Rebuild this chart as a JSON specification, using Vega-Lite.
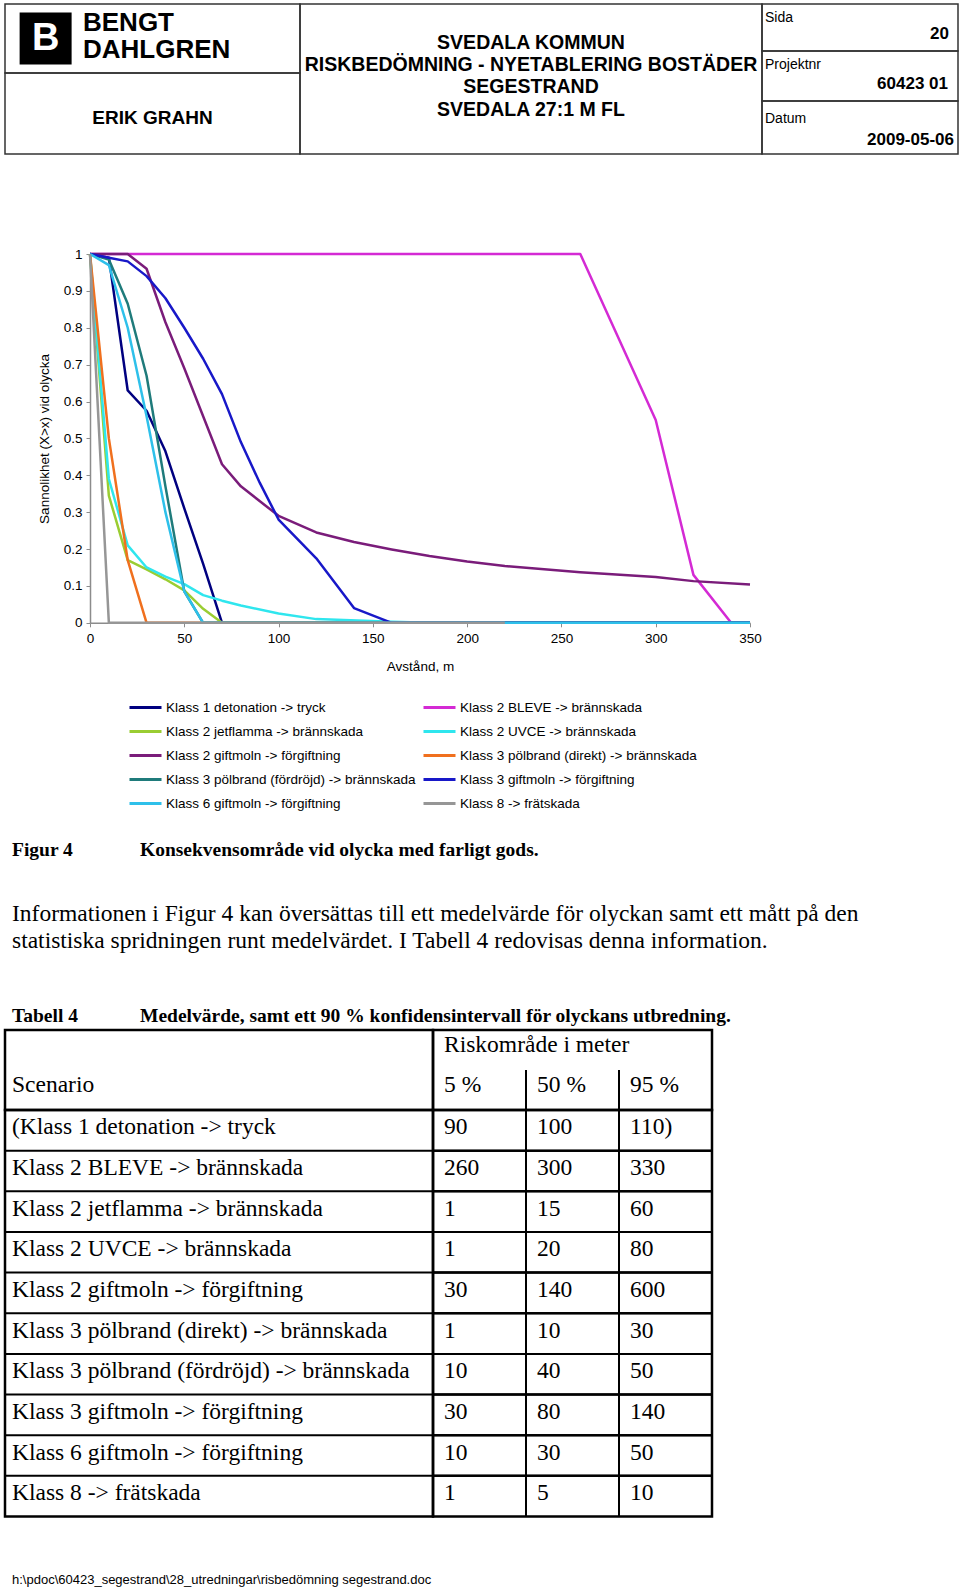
{
  "$schema": "https://vega.github.io/schema/vega-lite/v6.json",
  "padding": {"left": 2, "top": 3, "right": 0, "bottom": 0},
  "background": "white",
  "bounds": "flush",
  "spacing": 0,
  "config": {
    "view": {"stroke": null},
    "font": "Liberation Sans",
    "text": {"color": "black"}
  },
  "datasets": {
    "curves": [
      {"s": "Klass 1 detonation -> tryck", "x": 0, "p": 1},
      {"s": "Klass 1 detonation -> tryck", "x": 10, "p": 0.99},
      {"s": "Klass 1 detonation -> tryck", "x": 20, "p": 0.63},
      {"s": "Klass 1 detonation -> tryck", "x": 30, "p": 0.575},
      {"s": "Klass 1 detonation -> tryck", "x": 40, "p": 0.465},
      {"s": "Klass 1 detonation -> tryck", "x": 50, "p": 0.31},
      {"s": "Klass 1 detonation -> tryck", "x": 60, "p": 0.16},
      {"s": "Klass 1 detonation -> tryck", "x": 70, "p": 0},
      {"s": "Klass 1 detonation -> tryck", "x": 350, "p": 0},
      {"s": "Klass 2 BLEVE -> brännskada", "x": 0, "p": 1},
      {"s": "Klass 2 BLEVE -> brännskada", "x": 260, "p": 1},
      {"s": "Klass 2 BLEVE -> brännskada", "x": 300, "p": 0.55},
      {"s": "Klass 2 BLEVE -> brännskada", "x": 320, "p": 0.13},
      {"s": "Klass 2 BLEVE -> brännskada", "x": 340, "p": 0},
      {"s": "Klass 2 BLEVE -> brännskada", "x": 350, "p": 0},
      {"s": "Klass 2 jetflamma -> brännskada", "x": 0, "p": 1},
      {"s": "Klass 2 jetflamma -> brännskada", "x": 10, "p": 0.345},
      {"s": "Klass 2 jetflamma -> brännskada", "x": 20, "p": 0.17},
      {"s": "Klass 2 jetflamma -> brännskada", "x": 30, "p": 0.145},
      {"s": "Klass 2 jetflamma -> brännskada", "x": 40, "p": 0.118},
      {"s": "Klass 2 jetflamma -> brännskada", "x": 50, "p": 0.088},
      {"s": "Klass 2 jetflamma -> brännskada", "x": 60, "p": 0.038},
      {"s": "Klass 2 jetflamma -> brännskada", "x": 70, "p": 0},
      {"s": "Klass 2 jetflamma -> brännskada", "x": 350, "p": 0},
      {"s": "Klass 2 UVCE -> brännskada", "x": 0, "p": 1},
      {"s": "Klass 2 UVCE -> brännskada", "x": 10, "p": 0.39},
      {"s": "Klass 2 UVCE -> brännskada", "x": 20, "p": 0.21},
      {"s": "Klass 2 UVCE -> brännskada", "x": 30, "p": 0.15},
      {"s": "Klass 2 UVCE -> brännskada", "x": 40, "p": 0.125},
      {"s": "Klass 2 UVCE -> brännskada", "x": 50, "p": 0.105},
      {"s": "Klass 2 UVCE -> brännskada", "x": 60, "p": 0.075},
      {"s": "Klass 2 UVCE -> brännskada", "x": 70, "p": 0.06},
      {"s": "Klass 2 UVCE -> brännskada", "x": 80, "p": 0.047},
      {"s": "Klass 2 UVCE -> brännskada", "x": 100, "p": 0.025},
      {"s": "Klass 2 UVCE -> brännskada", "x": 120, "p": 0.01},
      {"s": "Klass 2 UVCE -> brännskada", "x": 160, "p": 0.003},
      {"s": "Klass 2 UVCE -> brännskada", "x": 180, "p": 0},
      {"s": "Klass 2 UVCE -> brännskada", "x": 350, "p": 0},
      {"s": "Klass 2 giftmoln -> förgiftning", "x": 0, "p": 1},
      {"s": "Klass 2 giftmoln -> förgiftning", "x": 20, "p": 1},
      {"s": "Klass 2 giftmoln -> förgiftning", "x": 30, "p": 0.96},
      {"s": "Klass 2 giftmoln -> förgiftning", "x": 40, "p": 0.815},
      {"s": "Klass 2 giftmoln -> förgiftning", "x": 50, "p": 0.69},
      {"s": "Klass 2 giftmoln -> förgiftning", "x": 60, "p": 0.56},
      {"s": "Klass 2 giftmoln -> förgiftning", "x": 70, "p": 0.43},
      {"s": "Klass 2 giftmoln -> förgiftning", "x": 80, "p": 0.37},
      {"s": "Klass 2 giftmoln -> förgiftning", "x": 100, "p": 0.29},
      {"s": "Klass 2 giftmoln -> förgiftning", "x": 120, "p": 0.245},
      {"s": "Klass 2 giftmoln -> förgiftning", "x": 140, "p": 0.219},
      {"s": "Klass 2 giftmoln -> förgiftning", "x": 160, "p": 0.199},
      {"s": "Klass 2 giftmoln -> förgiftning", "x": 180, "p": 0.181},
      {"s": "Klass 2 giftmoln -> förgiftning", "x": 200, "p": 0.166},
      {"s": "Klass 2 giftmoln -> förgiftning", "x": 220, "p": 0.154},
      {"s": "Klass 2 giftmoln -> förgiftning", "x": 260, "p": 0.137},
      {"s": "Klass 2 giftmoln -> förgiftning", "x": 300, "p": 0.124},
      {"s": "Klass 2 giftmoln -> förgiftning", "x": 320, "p": 0.113},
      {"s": "Klass 2 giftmoln -> förgiftning", "x": 350, "p": 0.104},
      {"s": "Klass 3 pölbrand (direkt) -> brännskada", "x": 0, "p": 1},
      {"s": "Klass 3 pölbrand (direkt) -> brännskada", "x": 10, "p": 0.5},
      {"s": "Klass 3 pölbrand (direkt) -> brännskada", "x": 20, "p": 0.17},
      {"s": "Klass 3 pölbrand (direkt) -> brännskada", "x": 30, "p": 0},
      {"s": "Klass 3 pölbrand (direkt) -> brännskada", "x": 350, "p": 0},
      {"s": "Klass 3 pölbrand (fördröjd) -> brännskada", "x": 0, "p": 1},
      {"s": "Klass 3 pölbrand (fördröjd) -> brännskada", "x": 10, "p": 0.985},
      {"s": "Klass 3 pölbrand (fördröjd) -> brännskada", "x": 20, "p": 0.865},
      {"s": "Klass 3 pölbrand (fördröjd) -> brännskada", "x": 30, "p": 0.67},
      {"s": "Klass 3 pölbrand (fördröjd) -> brännskada", "x": 40, "p": 0.37},
      {"s": "Klass 3 pölbrand (fördröjd) -> brännskada", "x": 50, "p": 0.085},
      {"s": "Klass 3 pölbrand (fördröjd) -> brännskada", "x": 60, "p": 0},
      {"s": "Klass 3 pölbrand (fördröjd) -> brännskada", "x": 350, "p": 0},
      {"s": "Klass 3 giftmoln -> förgiftning", "x": 0, "p": 1},
      {"s": "Klass 3 giftmoln -> förgiftning", "x": 10, "p": 0.99},
      {"s": "Klass 3 giftmoln -> förgiftning", "x": 20, "p": 0.98},
      {"s": "Klass 3 giftmoln -> förgiftning", "x": 30, "p": 0.94},
      {"s": "Klass 3 giftmoln -> förgiftning", "x": 40, "p": 0.88},
      {"s": "Klass 3 giftmoln -> förgiftning", "x": 50, "p": 0.8},
      {"s": "Klass 3 giftmoln -> förgiftning", "x": 60, "p": 0.716},
      {"s": "Klass 3 giftmoln -> förgiftning", "x": 70, "p": 0.62},
      {"s": "Klass 3 giftmoln -> förgiftning", "x": 80, "p": 0.49},
      {"s": "Klass 3 giftmoln -> förgiftning", "x": 90, "p": 0.38},
      {"s": "Klass 3 giftmoln -> förgiftning", "x": 100, "p": 0.28},
      {"s": "Klass 3 giftmoln -> förgiftning", "x": 120, "p": 0.175},
      {"s": "Klass 3 giftmoln -> förgiftning", "x": 140, "p": 0.04},
      {"s": "Klass 3 giftmoln -> förgiftning", "x": 160, "p": 0},
      {"s": "Klass 3 giftmoln -> förgiftning", "x": 350, "p": 0},
      {"s": "Klass 6 giftmoln -> förgiftning", "x": 0, "p": 1},
      {"s": "Klass 6 giftmoln -> förgiftning", "x": 10, "p": 0.97},
      {"s": "Klass 6 giftmoln -> förgiftning", "x": 20, "p": 0.8},
      {"s": "Klass 6 giftmoln -> förgiftning", "x": 30, "p": 0.56},
      {"s": "Klass 6 giftmoln -> förgiftning", "x": 40, "p": 0.3},
      {"s": "Klass 6 giftmoln -> förgiftning", "x": 50, "p": 0.085},
      {"s": "Klass 6 giftmoln -> förgiftning", "x": 60, "p": 0},
      {"s": "Klass 6 giftmoln -> förgiftning", "x": 350, "p": 0},
      {"s": "Klass 8 -> frätskada", "x": 0, "p": 1},
      {"s": "Klass 8 -> frätskada", "x": 5, "p": 0.5},
      {"s": "Klass 8 -> frätskada", "x": 10, "p": 0},
      {"s": "Klass 8 -> frätskada", "x": 220, "p": 0}
    ],
    "table": [
      {"scenario": "(Klass 1 detonation -> tryck", "p5": 90, "p50": 100, "p95": "110)"},
      {"scenario": "Klass 2 BLEVE -> brännskada", "p5": 260, "p50": 300, "p95": 330},
      {"scenario": "Klass 2 jetflamma -> brännskada", "p5": 1, "p50": 15, "p95": 60},
      {"scenario": "Klass 2 UVCE -> brännskada", "p5": 1, "p50": 20, "p95": 80},
      {"scenario": "Klass 2 giftmoln -> förgiftning", "p5": 30, "p50": 140, "p95": 600},
      {"scenario": "Klass 3 pölbrand (direkt) -> brännskada", "p5": 1, "p50": 10, "p95": 30},
      {"scenario": "Klass 3 pölbrand (fördröjd) -> brännskada", "p5": 10, "p50": 40, "p95": 50},
      {"scenario": "Klass 3 giftmoln -> förgiftning", "p5": 30, "p50": 80, "p95": 140},
      {"scenario": "Klass 6 giftmoln -> förgiftning", "p5": 10, "p50": 30, "p95": 50},
      {"scenario": "Klass 8 -> frätskada", "p5": 1, "p50": 5, "p95": 10}
    ]
  },
  "vconcat": [
    {
      "bounds": "flush", "spacing": 0,
      "hconcat": [
        {
          "bounds": "flush", "spacing": 0,
          "vconcat": [
            {
              "width": 295, "height": 69,
              "view": {"stroke": "#333333", "strokeWidth": 1.5},
              "layer": [
                {
                  "data": {"values": [{"part": "icon"}]},
                  "mark": {"type": "point", "shape": "square", "filled": true, "color": "black", "opacity": 1, "size": 2704},
                  "encoding": {"x": {"field": "part", "type": "nominal", "scale": {"type": "band", "domain": ["icon", "a", "b", "c"], "paddingInner": 0, "paddingOuter": 0.07}, "axis": null}}
                },
                {
                  "data": {"values": [{"part": "icon", "t": "B"}]},
                  "mark": {"type": "text", "color": "white", "fontWeight": "bold", "fontSize": 38, "baseline": "middle"},
                  "encoding": {"x": {"field": "part", "type": "nominal", "axis": null}, "text": {"field": "t"}}
                },
                {
                  "data": {"values": [{"t": "BENGT"}]},
                  "mark": {"type": "text", "align": "left", "baseline": "middle", "dx": -69.5, "dy": -15.5, "fontSize": 26, "fontWeight": "bold"},
                  "encoding": {"text": {"field": "t"}}
                },
                {
                  "data": {"values": [{"t": "DAHLGREN"}]},
                  "mark": {"type": "text", "align": "left", "baseline": "middle", "dx": -69.5, "dy": 11.5, "fontSize": 26, "fontWeight": "bold"},
                  "encoding": {"text": {"field": "t"}}
                }
              ]
            },
            {
              "width": 295, "height": 81,
              "view": {"stroke": "#333333", "strokeWidth": 1.5},
              "data": {"values": [{"t": "ERIK GRAHN"}]},
              "mark": {"type": "text", "baseline": "middle", "dy": 4.5, "fontSize": 19, "fontWeight": "bold"},
              "encoding": {"text": {"field": "t"}}
            }
          ]
        },
        {
          "width": 295, "height": 150,
          "data": {"values": [{}]},
          "mark": {"type": "text"},
          "encoding": {"text": {"value": ""}}
        },
        {
          "width": 462, "height": 150,
          "view": {"stroke": "#333333", "strokeWidth": 1.5},
          "layer": [
            {"data": {"values": [{"t": "SVEDALA KOMMUN"}]}, "mark": {"type": "text", "baseline": "middle", "dy": -36.4, "fontSize": 19.5, "fontWeight": "bold"}, "encoding": {"text": {"field": "t"}}},
            {"data": {"values": [{"t": "RISKBEDÖMNING - NYETABLERING BOSTÄDER"}]}, "mark": {"type": "text", "baseline": "middle", "dy": -14.1, "fontSize": 19.5, "fontWeight": "bold"}, "encoding": {"text": {"field": "t"}}},
            {"data": {"values": [{"t": "SEGESTRAND"}]}, "mark": {"type": "text", "baseline": "middle", "dy": 8.2, "fontSize": 19.5, "fontWeight": "bold"}, "encoding": {"text": {"field": "t"}}},
            {"data": {"values": [{"t": "SVEDALA 27:1 M FL"}]}, "mark": {"type": "text", "baseline": "middle", "dy": 30.5, "fontSize": 19.5, "fontWeight": "bold"}, "encoding": {"text": {"field": "t"}}}
          ]
        },
        {
          "bounds": "flush", "spacing": 0,
          "vconcat": [
            {
              "width": 196, "height": 47,
              "view": {"stroke": "#333333", "strokeWidth": 1.5},
              "layer": [
                {"data": {"values": [{"t": "Sida"}]}, "mark": {"type": "text", "align": "left", "baseline": "middle", "dx": -95, "dy": -9.3, "fontSize": 14}, "encoding": {"text": {"field": "t"}}},
                {"data": {"values": [{"t": "20"}]}, "mark": {"type": "text", "align": "right", "baseline": "middle", "dx": 89, "dy": 6, "fontSize": 17, "fontWeight": "bold"}, "encoding": {"text": {"field": "t"}}}
              ]
            },
            {
              "width": 196, "height": 50,
              "view": {"stroke": "#333333", "strokeWidth": 1.5},
              "layer": [
                {"data": {"values": [{"t": "Projektnr"}]}, "mark": {"type": "text", "align": "left", "baseline": "middle", "dx": -95, "dy": -11, "fontSize": 14}, "encoding": {"text": {"field": "t"}}},
                {"data": {"values": [{"t": "60423 01"}]}, "mark": {"type": "text", "align": "right", "baseline": "middle", "dx": 88, "dy": 8.1, "fontSize": 17, "fontWeight": "bold"}, "encoding": {"text": {"field": "t"}}}
              ]
            },
            {
              "width": 196, "height": 53,
              "view": {"stroke": "#333333", "strokeWidth": 1.5},
              "layer": [
                {"data": {"values": [{"t": "Datum"}]}, "mark": {"type": "text", "align": "left", "baseline": "middle", "dx": -95, "dy": -8.9, "fontSize": 14}, "encoding": {"text": {"field": "t"}}},
                {"data": {"values": [{"t": "2009-05-06"}]}, "mark": {"type": "text", "align": "right", "baseline": "middle", "dx": 94, "dy": 12.4, "fontSize": 17, "fontWeight": "bold"}, "encoding": {"text": {"field": "t"}}}
              ]
            }
          ]
        }
      ]
    },
    {
      "width": 10, "height": 249.5,
      "data": {"values": [{}]},
      "mark": {"type": "text"},
      "encoding": {"text": {"value": ""}}
    },
    {
      "bounds": "flush", "spacing": 0,
      "hconcat": [
        {
          "width": 85, "height": 368.8,
          "data": {"values": [{}]},
          "mark": {"type": "text"},
          "encoding": {"text": {"value": ""}}
        },
        {
          "width": 660, "height": 368.8,
          "data": {"name": "curves"},
          "mark": {"type": "line", "strokeWidth": 2.5, "strokeJoin": "round"},
          "encoding": {
            "x": {
              "field": "x", "type": "quantitative",
              "scale": {"domain": [0, 350], "nice": false},
              "axis": {"values": [0, 50, 100, 150, 200, 250, 300, 350], "title": "Avstånd, m", "grid": false, "labelFlush": false,
                "labelFont": "Liberation Sans", "titleFont": "Liberation Sans", "labelFontSize": 13.5, "titleFontSize": 13.5, "titleFontWeight": "normal",
                "labelColor": "black", "titleColor": "black", "domainColor": "#8c8c8c", "domainWidth": 1.5, "tickColor": "#8c8c8c", "tickSize": 4,
                "labelPadding": 5, "titlePadding": 14}
            },
            "y": {
              "field": "p", "type": "quantitative",
              "scale": {"domain": [0, 1], "nice": false},
              "axis": {"values": [0, 0.1, 0.2, 0.3, 0.4, 0.5, 0.6, 0.7, 0.8, 0.9, 1], "format": "~g", "title": "Sannolikhet (X>x) vid olycka", "grid": false, "labelFlush": false,
                "labelFont": "Liberation Sans", "titleFont": "Liberation Sans", "labelFontSize": 13.5, "titleFontSize": 13.5, "titleFontWeight": "normal",
                "labelColor": "black", "titleColor": "black", "domainColor": "#8c8c8c", "domainWidth": 1.5, "tickColor": "#8c8c8c", "tickSize": 4,
                "labelPadding": 4, "titlePadding": 12}
            },
            "color": {
              "field": "s", "type": "nominal",
              "scale": {
                "domain": ["Klass 1 detonation -> tryck", "Klass 2 jetflamma -> brännskada", "Klass 2 giftmoln -> förgiftning", "Klass 3 pölbrand (fördröjd) -> brännskada", "Klass 6 giftmoln -> förgiftning", "Klass 2 BLEVE -> brännskada", "Klass 2 UVCE -> brännskada", "Klass 3 pölbrand (direkt) -> brännskada", "Klass 3 giftmoln -> förgiftning", "Klass 8 -> frätskada"],
                "range": ["#000080", "#9ACD32", "#7A1C7A", "#1F7B7B", "#2EC0EA", "#D42AD4", "#2FE6EE", "#F0701E", "#1818C8", "#969696"]
              },
              "legend": {"orient": "none", "legendX": 123, "legendY": 686, "columns": 2, "title": null, "padding": 0, "offset": 0,
                "symbolType": "stroke", "symbolSize": 1024, "symbolStrokeWidth": 3, "labelFont": "Liberation Sans", "labelFontSize": 13.5,
                "labelColor": "black", "labelOffset": 3, "columnPadding": 1, "rowPadding": 0, "labelLimit": 400}
            }
          }
        }
      ]
    },
    {
      "width": 10, "height": 368.8,
      "data": {"values": [{}]},
      "mark": {"type": "text"},
      "encoding": {"text": {"value": ""}}
    },
    {
      "width": 953, "height": 406.7,
      "layer": [
        {"data": {"values": [{"t": "Figur 4"}]}, "mark": {"type": "text", "align": "left", "baseline": "middle", "dx": -469.5, "dy": 23.85, "font": "Liberation Serif", "fontSize": 19.5, "fontWeight": "bold"}, "encoding": {"text": {"field": "t"}}},
        {"data": {"values": [{"t": "Konsekvensområde vid olycka med farligt gods."}]}, "mark": {"type": "text", "align": "left", "baseline": "middle", "dx": -341.5, "dy": 23.85, "font": "Liberation Serif", "fontSize": 19.5, "fontWeight": "bold"}, "encoding": {"text": {"field": "t"}}},
        {"data": {"values": [{"t": "Informationen i Figur 4 kan översättas till ett medelvärde för olyckan samt ett mått på den"}]}, "mark": {"type": "text", "align": "left", "baseline": "middle", "dx": -469.5, "dy": 87.35, "font": "Liberation Serif", "fontSize": 23.5}, "encoding": {"text": {"field": "t"}}},
        {"data": {"values": [{"t": "statistiska spridningen runt medelvärdet. I Tabell 4 redovisas denna information."}]}, "mark": {"type": "text", "align": "left", "baseline": "middle", "dx": -469.5, "dy": 114.35, "font": "Liberation Serif", "fontSize": 23.5}, "encoding": {"text": {"field": "t"}}},
        {"data": {"values": [{"t": "Tabell 4"}]}, "mark": {"type": "text", "align": "left", "baseline": "middle", "dx": -469.5, "dy": 189.35, "font": "Liberation Serif", "fontSize": 19.5, "fontWeight": "bold"}, "encoding": {"text": {"field": "t"}}},
        {"data": {"values": [{"t": "Medelvärde, samt ett 90 % konfidensintervall för olyckans utbredning."}]}, "mark": {"type": "text", "align": "left", "baseline": "middle", "dx": -341.5, "dy": 189.35, "font": "Liberation Serif", "fontSize": 19.5, "fontWeight": "bold"}, "encoding": {"text": {"field": "t"}}}
      ]
    },
    {
      "bounds": "flush", "spacing": 0,
      "hconcat": [
        {
          "width": 428, "height": 80,
          "view": {"stroke": "black", "strokeWidth": 2.5},
          "data": {"values": [{"t": "Scenario"}]},
          "mark": {"type": "text", "align": "left", "baseline": "middle", "dx": -207, "dy": 15, "font": "Liberation Serif", "fontSize": 23.5},
          "encoding": {"text": {"field": "t"}}
        },
        {
          "width": 279, "height": 80,
          "view": {"stroke": "black", "strokeWidth": 2.5},
          "layer": [
            {"data": {"values": [{"t": "Riskområde i meter"}]}, "mark": {"type": "text", "align": "left", "baseline": "middle", "dx": -128.5, "dy": -25, "font": "Liberation Serif", "fontSize": 23.5}, "encoding": {"text": {"field": "t"}}},
            {
              "data": {"values": [{"level": "p5", "t": "5 %"}, {"level": "p50", "t": "50 %"}, {"level": "p95", "t": "95 %"}]},
              "mark": {"type": "text", "align": "left", "baseline": "middle", "dx": 11, "dy": 15, "font": "Liberation Serif", "fontSize": 23.5},
              "encoding": {
                "x": {"field": "level", "type": "nominal", "bandPosition": 0, "scale": {"type": "band", "domain": ["p5", "p50", "p95"], "paddingInner": 0, "paddingOuter": 0}, "axis": null},
                "text": {"field": "t"}
              }
            },
            {
              "data": {"values": [{"level": "p50", "row": "levels"}, {"level": "p95", "row": "levels"}]},
              "mark": {"type": "rule", "color": "black", "strokeWidth": 2},
              "encoding": {
                "x": {"field": "level", "type": "nominal", "bandPosition": 0, "axis": null},
                "y": {"field": "row", "type": "nominal", "bandPosition": 0, "scale": {"type": "band", "domain": ["title", "levels"], "paddingInner": 0, "paddingOuter": 0}, "axis": null},
                "y2": {"field": "row", "bandPosition": 1}
              }
            }
          ]
        }
      ]
    },
    {
      "width": 10, "height": 80,
      "data": {"values": [{}]},
      "mark": {"type": "text"},
      "encoding": {"text": {"value": ""}}
    },
    {
      "bounds": "flush", "spacing": 0,
      "hconcat": [
        {
          "width": 428, "height": 406.5,
          "view": {"stroke": "black", "strokeWidth": 2.5},
          "data": {"name": "table"},
          "layer": [
            {
              "mark": {"type": "rule", "color": "black", "strokeWidth": 2},
              "encoding": {"y": {"field": "scenario", "type": "nominal", "sort": null, "bandPosition": 0, "scale": {"type": "band", "paddingInner": 0, "paddingOuter": 0}, "axis": null}}
            },
            {
              "mark": {"type": "text", "align": "left", "baseline": "middle", "dx": -207, "dy": -3, "font": "Liberation Serif", "fontSize": 23.5},
              "encoding": {"y": {"field": "scenario", "type": "nominal", "sort": null, "axis": null}, "text": {"field": "scenario"}}
            }
          ]
        },
        {
          "width": 279, "height": 406.5,
          "view": {"stroke": "black", "strokeWidth": 2.5},
          "data": {"name": "table"},
          "transform": [{"fold": ["p5", "p50", "p95"], "as": ["level", "meters"]}],
          "layer": [
            {
              "mark": {"type": "rule", "color": "black", "strokeWidth": 2},
              "encoding": {"y": {"field": "scenario", "type": "nominal", "sort": null, "bandPosition": 0, "scale": {"type": "band", "paddingInner": 0, "paddingOuter": 0}, "axis": null}}
            },
            {
              "mark": {"type": "rule", "color": "black", "strokeWidth": 2},
              "encoding": {"x": {"field": "level", "type": "nominal", "bandPosition": 0, "scale": {"type": "band", "domain": ["p5", "p50", "p95"], "paddingInner": 0, "paddingOuter": 0}, "axis": null}}
            },
            {
              "mark": {"type": "text", "align": "left", "baseline": "middle", "dx": 11, "dy": -3, "font": "Liberation Serif", "fontSize": 23.5},
              "encoding": {
                "x": {"field": "level", "type": "nominal", "bandPosition": 0, "axis": null},
                "y": {"field": "scenario", "type": "nominal", "sort": null, "axis": null},
                "text": {"field": "meters", "type": "nominal"}
              }
            }
          ]
        }
      ]
    },
    {
      "width": 10, "height": 406.5,
      "data": {"values": [{}]},
      "mark": {"type": "text"},
      "encoding": {"text": {"value": ""}}
    },
    {
      "width": 953, "height": 70,
      "data": {"values": [{"t": "h:\\pdoc\\60423_segestrand\\28_utredningar\\risbedömning segestrand.doc"}]},
      "mark": {"type": "text", "align": "left", "baseline": "middle", "dx": -469.5, "dy": 27.5, "fontSize": 13},
      "encoding": {"text": {"field": "t"}}
    }
  ]
}
